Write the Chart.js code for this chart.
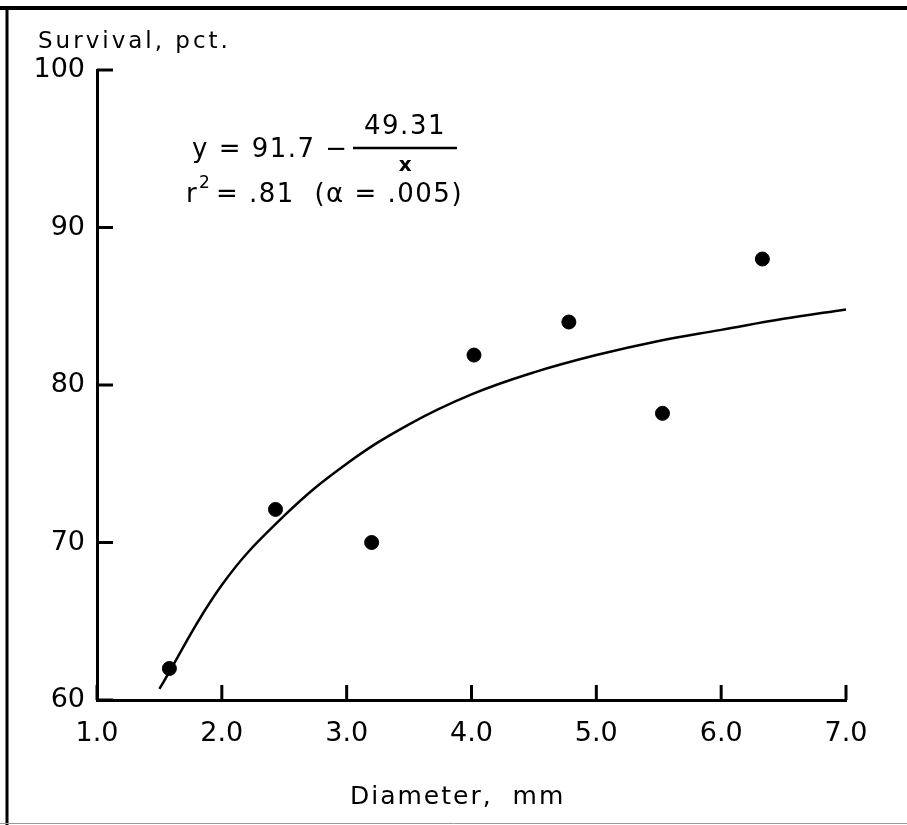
<!DOCTYPE html>
<html>
<head>
<meta charset="utf-8">
<script src="https://cdn.jsdelivr.net/npm/chart.js@4.4.1/dist/chart.umd.min.js"></script>
<style>
  html, body { margin: 0; padding: 0; background: #fff; }
  #wrap { width: 907px; height: 825px; position: relative; }
</style>
</head>
<body>
<div id="wrap"><canvas id="survivalChart"></canvas></div>
<script>
// measured points (diameter mm, survival pct)
const diameters = [1.58, 2.43, 3.20, 4.02, 4.78, 5.53, 6.33];
const survival = [62.0, 72.1, 70.0, 81.9, 84.0, 78.2, 88.0];

// fitted curve
const fitX = [1.5, 2.0, 2.5, 3.0, 3.5, 4.0, 4.5, 5.0, 5.5, 6.0, 6.5, 7.0];
const fitY = [60.7, 67.3, 71.7, 75.0, 77.5, 79.4, 80.8, 81.9, 82.8, 83.5, 84.2, 84.8];

const xTicks = [1, 2, 3, 4, 5, 6, 7];
const yTicks = [60, 70, 80, 90, 100];

const FONT = '"DejaVu Sans", "Liberation Sans", sans-serif';

const toPoints = (xs, ys) => xs.map((x, i) => ({ x, y: ys[i] }));

// frame, inward ticks and the hand lettered texts
const figureExtras = {
  id: 'figureExtras',
  afterDraw(chart) {
    const { ctx, chartArea } = chart;
    const xs = chart.scales.x;
    const ys = chart.scales.y;
    ctx.save();

    // scan border
    ctx.strokeStyle = '#000';
    ctx.lineWidth = 4;
    ctx.beginPath();
    ctx.moveTo(0, 8);
    ctx.lineTo(907, 8);
    ctx.stroke();
    ctx.lineWidth = 3;
    ctx.beginPath();
    ctx.moveTo(7, 8);
    ctx.lineTo(7, 825);
    ctx.stroke();
    ctx.strokeStyle = '#999';
    ctx.lineWidth = 1;
    ctx.beginPath();
    ctx.moveTo(0, 823.5);
    ctx.lineTo(907, 823.5);
    ctx.stroke();

    // ticks point into the plot
    ctx.strokeStyle = '#000';
    ctx.lineWidth = 3;
    yTicks.forEach((v) => {
      const py = ys.getPixelForValue(v);
      ctx.beginPath();
      ctx.moveTo(chartArea.left, py);
      ctx.lineTo(chartArea.left + 16, py);
      ctx.stroke();
    });
    xTicks.forEach((v) => {
      const px = xs.getPixelForValue(v);
      ctx.beginPath();
      ctx.moveTo(px, chartArea.bottom);
      ctx.lineTo(px, chartArea.bottom - 15);
      ctx.stroke();
    });

    ctx.fillStyle = '#000';
    ctx.textBaseline = 'middle';
    ctx.textAlign = 'left';

    ctx.font = '23px ' + FONT;
    ctx.letterSpacing = '3px';
    ctx.fillText('Survival, pct.', 38, 42);

    ctx.font = '25px ' + FONT;
    ctx.letterSpacing = '2px';
    ctx.fillText('Diameter,  mm', 350, 797);

    // equation
    ctx.font = '26px ' + FONT;
    ctx.letterSpacing = '1.5px';
    ctx.fillText('y = 91.7 \u2212', 192, 150);
    ctx.textAlign = 'center';
    ctx.fillText('49.31', 405, 127);
    ctx.font = 'bold 20px ' + FONT;
    ctx.fillText('x', 406, 166);
    ctx.lineWidth = 2.5;
    ctx.beginPath();
    ctx.moveTo(353, 148);
    ctx.lineTo(457, 148);
    ctx.stroke();

    ctx.textAlign = 'left';
    ctx.font = '26px ' + FONT;
    ctx.fillText('r', 186, 195);
    ctx.font = '17px ' + FONT;
    ctx.fillText('2', 199, 184);
    ctx.font = '26px ' + FONT;
    ctx.fillText('= .81  (\u03b1 = .005)', 216, 195);

    ctx.restore();
  },
};

const ctx = document.getElementById('survivalChart').getContext('2d');

new Chart(ctx, {
  type: 'scatter',
  data: {
    datasets: [
      {
        type: 'line',
        label: 'Fit',
        data: toPoints(fitX, fitY),
        borderColor: '#000',
        borderWidth: 2.5,
        pointRadius: 0,
        tension: 0.4,
        fill: false,
      },
      {
        label: 'Survival',
        data: toPoints(diameters, survival),
        backgroundColor: '#000',
        borderColor: '#000',
        pointRadius: 7,
        pointHoverRadius: 7,
      },
    ],
  },
  options: {
    responsive: true,
    maintainAspectRatio: false,
    animation: false,
    layout: { padding: { left: 0, top: 70, right: 61, bottom: 0 } },
    plugins: {
      legend: { display: false },
      tooltip: { enabled: false },
    },
    scales: {
      x: {
        type: 'linear',
        min: 1,
        max: 7,
        afterBuildTicks: (scale) => { scale.ticks = xTicks.map((v) => ({ value: v })); },
        afterFit: (scale) => { scale.height = 125; },
        grid: { display: false, drawTicks: false },
        border: { display: true, color: '#000', width: 3 },
        ticks: {
          color: '#000',
          padding: 18,
          font: { family: FONT, size: 27 },
          callback: (v) => Number(v).toFixed(1),
        },
      },
      y: {
        type: 'linear',
        min: 60,
        max: 100,
        afterBuildTicks: (scale) => { scale.ticks = yTicks.map((v) => ({ value: v })); },
        afterFit: (scale) => { scale.width = 97; },
        grid: { display: false, drawTicks: false },
        border: { display: true, color: '#000', width: 3 },
        ticks: {
          color: '#000',
          padding: 12,
          font: { family: FONT, size: 27 },
        },
      },
    },
  },
  plugins: [figureExtras],
});
</script>
</body>
</html>
